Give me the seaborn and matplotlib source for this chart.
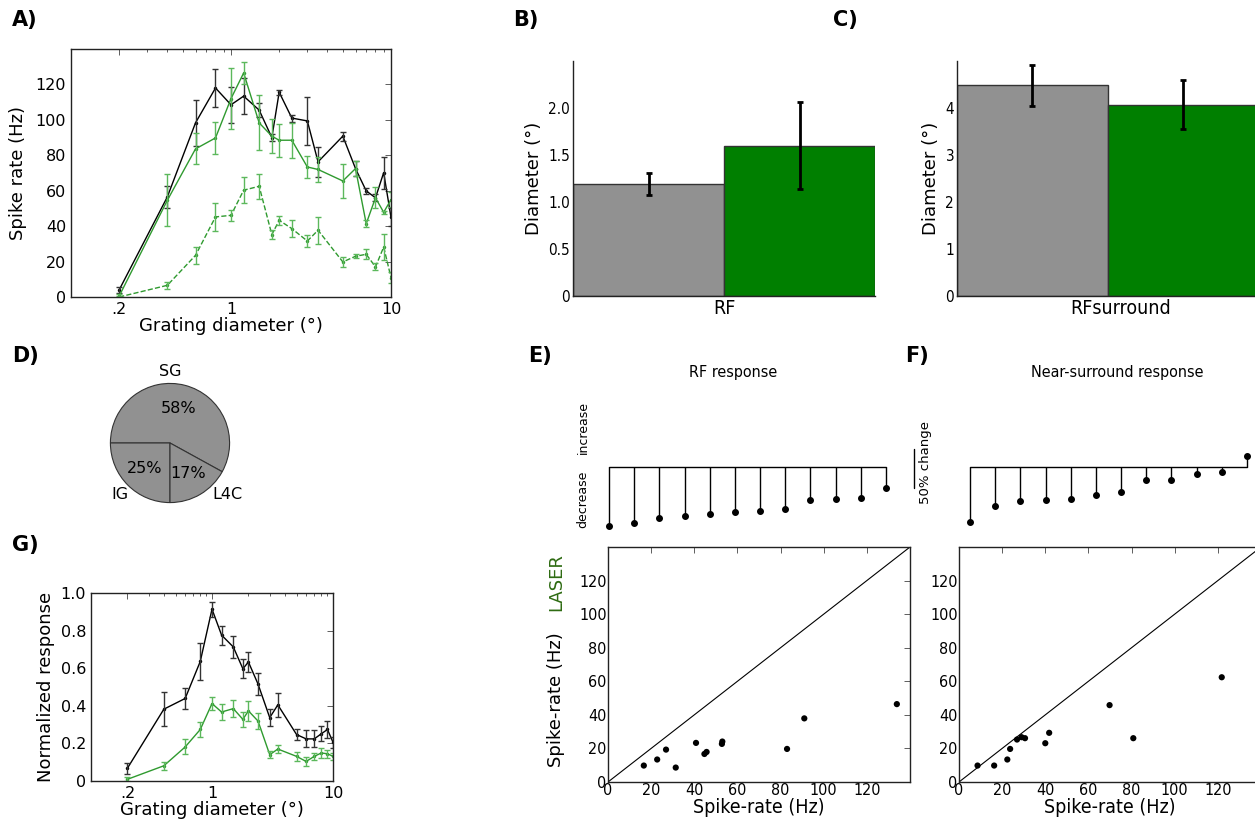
import matplotlib
matplotlib.use('Agg')
import matplotlib.pyplot as plt
import matplotlib.ticker as mticker
import seaborn as sns
import pandas as pd

# ---- A) size tuning, spike rate (Hz) ----
diam = [0.2, 0.4, 0.6, 0.8, 1.0, 1.2, 1.5, 1.8, 2.0, 2.4, 3.0, 3.5, 5.0, 6.0, 7.0, 8.0, 9.0, 10.0]
a_ctrl = [4, 56.5, 98.3, 118, 108.5, 113.4, 105.5, 90, 115.6, 101, 99.4, 76.3, 90.8, 72.5, 59.9, 56, 70.2, 45]
a_ctrl_err = [1.5, 6, 13, 10.5, 10, 10, 4, 2, 1.5, 2, 13.5, 8.5, 2.5, 4, 1.5, 2, 9, 5]
a_laser = [0.5, 54.6, 83.6, 89.8, 112, 126.5, 98.3, 90.8, 88.5, 88.5, 73.4, 72, 65.5, 72.5, 41.4, 56, 47.8, 55]
a_laser_err = [1, 14.7, 8.7, 9, 17, 6, 15.5, 9.6, 9.2, 10, 6.3, 7, 9.6, 4.3, 2, 6, 1, 4]
a_diff = [0, 6.6, 23.5, 45.2, 46.1, 60.3, 62.5, 35.2, 43.3, 38.6, 31.6, 37.7, 19.8, 23, 24.1, 17, 28.2, 11]
a_diff_err = [0.5, 2, 4.7, 7.7, 3, 7.5, 7, 2.6, 2.5, 5, 3.3, 7.5, 2.6, 1, 2.8, 2, 7.5, 3]

# ---- G) normalized population tuning ----
g_ctrl = [0.068, 0.382, 0.439, 0.636, 0.914, 0.776, 0.713, 0.597, 0.633, 0.516, 0.337, 0.405,
          0.247, 0.224, 0.224, 0.251, 0.274, 0.206]
g_ctrl_err = [0.03, 0.09, 0.055, 0.1, 0.04, 0.05, 0.06, 0.05, 0.055, 0.06, 0.045, 0.065,
              0.03, 0.045, 0.045, 0.04, 0.045, 0.03]
g_laser = [0.009, 0.081, 0.181, 0.274, 0.412, 0.367, 0.385, 0.328, 0.373, 0.319, 0.14, 0.17,
           0.131, 0.104, 0.131, 0.149, 0.145, 0.131]
g_laser_err = [0.01, 0.02, 0.04, 0.04, 0.035, 0.045, 0.045, 0.04, 0.055, 0.045, 0.02, 0.02,
               0.025, 0.025, 0.02, 0.025, 0.02, 0.02]

# ---- B) / C) diameters ----
cond = ['control', 'laser']
rf_diam = [1.19, 1.60]
rf_err = [0.115, 0.46]
surr_diam = [4.48, 4.07]
surr_err = [0.435, 0.525]

# ---- D) laminar distribution ----
layers = ['SG', 'IG', 'L4C']
layer_pct = [58, 25, 17]

# ---- E) / F) control vs laser spike rates ----
rf_ctrl = [16.6, 22.8, 26.9, 31.4, 40.8, 44.7, 45.7, 52.8, 53.0, 83.0, 91.0, 133.9]
rf_laser = [9.8, 13.4, 19.3, 8.6, 23.3, 16.7, 17.9, 22.7, 24.1, 19.7, 37.9, 46.4]
ns_ctrl = [8.6, 16.3, 22.4, 23.7, 26.9, 29.0, 30.6, 40.0, 41.8, 69.8, 80.8, 121.8]
ns_laser = [9.8, 9.8, 13.4, 19.7, 25.3, 26.7, 26.1, 23.1, 29.3, 45.8, 26.1, 62.4]
# percent change per cell, sorted
rf_change = [-75.4, -71.2, -64.9, -62.0, -59.4, -57.6, -55.6, -53.4, -42.0, -40.7, -39.4, -26.7]
ns_change = [-69.6, -50.0, -43.5, -42.2, -40.5, -35.7, -31.3, -17.0, -16.1, -9.1, -6.9, 14.0]

GRAY = '#919191'
BAR_GREEN = '#007f00'
LINE_GREEN = '#2f9a2f'
ERR_GREEN = '#5cb85c'
LASER_GREEN = '#2e6b12'

sns.set_style('white')
plt.rcParams['font.family'] = ['DejaVu Sans']
plt.rcParams['axes.edgecolor'] = '#222222'
plt.rcParams['axes.linewidth'] = 1.0
plt.rcParams['text.color'] = 'black'
plt.rcParams['axes.labelcolor'] = 'black'
plt.rcParams['xtick.color'] = 'black'
plt.rcParams['ytick.color'] = 'black'

W, H = 1255, 819
fig = plt.figure(figsize=(W / 100, H / 100), dpi=100)


def px(l, t, r, b):
    return [l / W, 1 - b / H, (r - l) / W, (b - t) / H]


def letter(x, y, s):
    fig.text(x / W, 1 - y / H, s, fontsize=15, fontweight='bold', ha='left', va='center')


def tuning_axes(ax):
    ax.set_xscale('log')
    ax.set_xlim(0.1, 10)
    ax.set_xticks([0.2, 1, 10])
    ax.set_xticklabels(['.2', '1', '10'])
    ax.xaxis.set_minor_formatter(mticker.NullFormatter())
    ax.tick_params(which='both', direction='in', top=True, right=True, labelsize=11.5,
                   length=4, width=0.6, color='#444444')
    ax.tick_params(which='minor', length=2)
    for s in ax.spines.values():
        s.set_visible(True)


def tuning_line(ax, y, err, color, ecolor, ls='-'):
    sns.lineplot(x=diam, y=y, ax=ax, color=color, lw=1, linestyle=ls, marker='o',
                 markersize=2.5, markeredgewidth=0, errorbar=None)
    ax.errorbar(diam, y, yerr=err, fmt='none', ecolor=ecolor, elinewidth=1,
                capsize=2, capthick=1)


# ---------------- A ----------------
axA = fig.add_axes(px(71, 49, 391, 297))
tuning_line(axA, a_ctrl, a_ctrl_err, 'black', '#333333')
tuning_line(axA, a_laser, a_laser_err, LINE_GREEN, ERR_GREEN)
tuning_line(axA, a_diff, a_diff_err, LINE_GREEN, ERR_GREEN, ls='--')
tuning_axes(axA)
axA.set_ylim(0, 140)
axA.set_yticks(range(0, 121, 20))
axA.set_ylabel('Spike rate (Hz)', fontsize=13, labelpad=6)
axA.set_xlabel('Grating diameter (°)', fontsize=13, labelpad=0)
letter(12, 20, 'A)')

# ---------------- G ----------------
axG = fig.add_axes(px(91, 593, 333, 781))
tuning_line(axG, g_ctrl, g_ctrl_err, 'black', '#333333')
tuning_line(axG, g_laser, g_laser_err, LINE_GREEN, ERR_GREEN)
tuning_axes(axG)
axG.set_ylim(0, 1.0)
axG.set_yticks([0, 0.2, 0.4, 0.6, 0.8, 1.0])
axG.set_yticklabels(['0', '0.2', '0.4', '0.6', '0.8', '1.0'])
axG.set_ylabel('Normalized response', fontsize=13, labelpad=4)
axG.set_xlabel('Grating diameter (°)', fontsize=13, labelpad=0)
letter(12, 545, 'G)')


# ---------------- B / C ----------------
def bar_panel(rect, vals, errs, ylim, yticks, yticklabels, label, label_x):
    ax = fig.add_axes(rect)
    df = pd.DataFrame({'cond': cond, 'diam': vals})
    sns.barplot(data=df, x='cond', y='diam', hue='cond', palette=[GRAY, BAR_GREEN],
                saturation=1, width=1, edgecolor='#333333', linewidth=1, legend=False, ax=ax)
    ax.errorbar(range(len(vals)), vals, yerr=errs, fmt='none', ecolor='black',
                elinewidth=2, capsize=2, capthick=2)
    ax.set_xlim(-0.5, 1.5)
    ax.set_ylim(*ylim)
    ax.set_yticks(yticks)
    ax.set_yticklabels(yticklabels, fontstretch='condensed')
    ax.set_xticks([label_x])
    ax.set_xticklabels([label], fontsize=14, fontstretch='condensed')
    ax.set_xlabel('')
    ax.set_ylabel('Diameter (°)', fontsize=13, labelpad=4)
    ax.spines['top'].set_visible(False)
    ax.spines['right'].set_visible(False)
    ax.tick_params(axis='y', direction='in', length=3, labelsize=11, pad=2)
    ax.tick_params(axis='x', length=0, pad=2)
    return ax


bar_panel(px(573, 61, 875, 296), rf_diam, rf_err, (0, 2.5), [0, 0.5, 1.0, 1.5, 2.0],
          ['0', '0.5', '1.0', '1.5', '2.0'], 'RF', 0.5)
letter(513, 20, 'B)')
bar_panel(px(957, 61, 1258, 296), surr_diam, surr_err, (0, 5), [0, 1, 2, 3, 4],
          ['0', '1', '2', '3', '4'], 'RFsurround', 0.59)
letter(833, 20, 'C)')

# ---------------- D ----------------
axD = fig.add_axes(px(170 - 71.5, 443 - 71.5, 170 + 71.5, 443 + 71.5))
wedges, _, autotexts = axD.pie(layer_pct, startangle=-28.8, counterclock=True,
                               colors=[GRAY] * 3, autopct='%d%%', pctdistance=0.6,
                               wedgeprops=dict(edgecolor='#333333', linewidth=0.8),
                               textprops=dict(fontsize=11.5, color='black'))
axD.set_xlim(-1.2, 1.2)
axD.set_ylim(-1.2, 1.2)
for name, (lx, ly) in zip(layers, [(0, 1.2), (-0.84, -0.86), (0.97, -0.87)]):
    axD.text(lx, ly, name, ha='center', va='center', fontsize=11.5)
letter(12, 356, 'D)')


# ---------------- E / F stems ----------------
def stem_panel(rect, change, title, title_x):
    ax = fig.add_axes(rect)
    ml, sl, bl = ax.stem(range(len(change)), change, linefmt='k-', markerfmt='ko', basefmt='k-')
    ml.set_markersize(4)
    sl.set_linewidth(1)
    bl.set_linewidth(1)
    ax.set_xlim(0, len(change) - 1)
    ax.set_ylim(-93, 60)
    ax.axis('off')
    for a in (ml, sl, bl):
        a.set_clip_on(False)
    fig.text(title_x / W, 1 - 373 / H, title, fontsize=11.5, fontstretch='condensed',
             ha='center', va='center')
    return ax


axEs = stem_panel(px(609, 420, 886, 540), rf_change, 'RF response', 733)
axFs = stem_panel(px(970, 420, 1247, 540), ns_change, 'Near-surround response', 1117)
# 50% scale bar
axEs.plot([12.1, 12.1], [-27, 23], color='black', lw=1, clip_on=False)
fig.text(926 / W, 1 - 463 / H, '50% change', rotation=90, fontsize=9.5, ha='center', va='center')
fig.text(583 / W, 1 - 427 / H, 'increase', rotation=90, fontsize=9, ha='center', va='center')
fig.text(583 / W, 1 - 499 / H, 'decrease', rotation=90, fontsize=9, ha='center', va='center')
letter(528, 356, 'E)')
letter(905, 356, 'F)')


# ---------------- E / F scatter ----------------
def scatter_panel(rect, xs, ys):
    ax = fig.add_axes(rect)
    sns.scatterplot(x=xs, y=ys, ax=ax, color='black', s=20, edgecolor='none')
    ax.axline((0, 0), slope=1, color='black', lw=0.8)
    ax.set_xlim(0, 140)
    ax.set_ylim(0, 140)
    ax.set_xticks(range(0, 121, 20))
    ax.set_yticks(range(0, 121, 20))
    for lab in ax.get_xticklabels() + ax.get_yticklabels():
        lab.set_fontstretch('condensed')
    ax.tick_params(direction='in', top=True, right=True, labelsize=11.5, length=4,
                   width=0.6, color='#444444', pad=1)
    ax.set_xlabel('Spike-rate (Hz)', fontsize=14, fontstretch='condensed', labelpad=0)
    for s in ax.spines.values():
        s.set_visible(True)
    return ax


scatter_panel(px(608, 547, 910, 782), rf_ctrl, rf_laser)
scatter_panel(px(959, 547, 1261, 782), ns_ctrl, ns_laser)
fig.text(556 / W, 1 - 700 / H, 'Spike-rate (Hz)', rotation=90, fontsize=13,
         ha='center', va='center')
fig.text(556 / W, 1 - 582 / H, 'LASER', rotation=90, fontsize=13, color=LASER_GREEN,
         ha='center', va='center')

fig.savefig('out.png', dpi=100, facecolor='white')
